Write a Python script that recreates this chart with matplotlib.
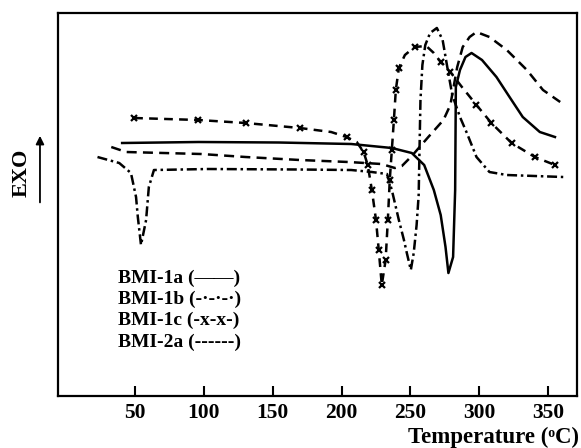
import matplotlib
matplotlib.use('Agg')
import matplotlib.pyplot as plt

plt.rcParams['font.family'] = ['Liberation Serif', 'DejaVu Serif']
plt.rcParams['font.weight'] = 'bold'

# DSC traces (temperature in C, heat flow in arbitrary units)
t_1a = [40.6, 96, 154.5, 207, 236.5, 251, 260, 267, 272, 275.5, 277.6, 281, 282.5,
        283, 286, 290, 294.4, 302, 312.5, 322, 331.6, 344, 355]
y_1a = [253, 254, 253.5, 252, 248, 243, 231, 206, 181, 149, 123, 139, 206,
        309, 326, 339, 343, 336, 319, 299, 279, 264, 259]

t_1b = [22.7, 38.5, 47, 50.7, 52, 54.3, 58, 60, 63.7, 103, 170, 207, 222, 233,
        236.5, 241.6, 245.3, 247.4, 250.3, 252.4, 254.5, 256, 256.6, 257.3, 258.7,
        260.8, 264.3, 269.2, 273.4, 276.9, 280.4, 286, 291, 298, 307.4, 320, 361]
y_1b = [239, 233, 223, 199, 179, 151, 176, 209, 226, 227, 226.5, 226, 224, 222,
        206, 176, 156, 143, 126, 143, 171, 201, 246, 296, 331,
        351, 363, 368, 356, 328, 301, 279, 263, 239, 224, 221, 219]

t_1c = [49.3, 96, 130.3, 169.7, 192.4, 203.6, 211, 216, 219, 222, 225, 227, 229.2,
        232, 233.6, 235, 236.5, 238, 239.4, 241.6, 246, 253, 261.5, 267, 272, 279,
        287.4, 298, 308.8, 323.5, 340.4, 355]
y_1c = [278, 276, 273, 268, 264, 259, 254, 244, 231, 206, 176, 146, 111,
        136, 176, 216, 246, 276, 306, 328, 341, 349, 350, 343, 334, 324,
        309, 291, 273, 253, 239, 231]

t_2a = [32.7, 43.5, 98, 130.3, 169.7, 205, 229, 238.7, 243.8, 251, 263, 274, 279,
        284, 288, 293, 298, 307.4, 320, 334.6, 346.3, 358.8]
y_2a = [249, 244, 242, 239, 236, 234, 232, 228, 230, 240, 259, 276, 291,
        329, 349, 359, 364, 359, 346, 326, 306, 294]

xticks = [50, 100, 150, 200, 250, 300, 350]
legend_lines = ['BMI-1a (\u2014\u2014)', 'BMI-1b (-\u00b7-\u00b7-\u00b7)',
                'BMI-1c (-x-x-)', 'BMI-2a (------)']

fig = plt.figure(figsize=(5.81, 4.48), dpi=100)
ax = fig.add_axes([0.0998, 0.116, 0.8933, 0.855])

lw = 1.8
ax.plot(t_1a, y_1a, color='k', lw=lw, solid_joinstyle='round')
ax.plot(t_1b, y_1b, color='k', lw=lw, dashes=(4, 1.5, 1, 1.5))
ax.plot(t_1c, y_1c, color='k', lw=lw, dashes=(3.5, 2.5), marker='x',
        markersize=5, markeredgewidth=1.6, markevery=0.04)
ax.plot(t_2a, y_2a, color='k', lw=lw, dashes=(4, 2.5))

ax.set_xlim(-6, 371)
ax.set_ylim(0, 383)
ax.set_xticks(xticks)
ax.set_xticklabels([str(v) for v in xticks], fontsize=15.5, fontweight='bold')
ax.set_yticks([])
ax.tick_params(axis='x', direction='in', length=7, width=1.5, pad=5)
for s in ax.spines.values():
    s.set_linewidth(1.6)

ax.text(1.003, -0.108, 'Temperature (\u1d52C)', transform=ax.transAxes,
        ha='right', va='center', fontsize=16.5, fontweight='bold')

# legend written as plain text, like the original figure
ys = [0.308, 0.253, 0.198, 0.141]
for txt, yy in zip(legend_lines, ys):
    ax.text(0.1156, yy, txt, transform=ax.transAxes, ha='left', va='center',
            fontsize=14, fontweight='bold')

fig.text(0.038, 0.614, 'EXO', rotation=90, ha='center', va='center',
         fontsize=16, fontweight='bold')
ax.annotate('', xy=(0.0688, 0.703), xytext=(0.0688, 0.542),
            xycoords='figure fraction', textcoords='figure fraction',
            arrowprops=dict(arrowstyle='-|>', lw=1.3, color='k',
                            mutation_scale=12),
            annotation_clip=False)

fig.savefig('out.png', dpi=100)
